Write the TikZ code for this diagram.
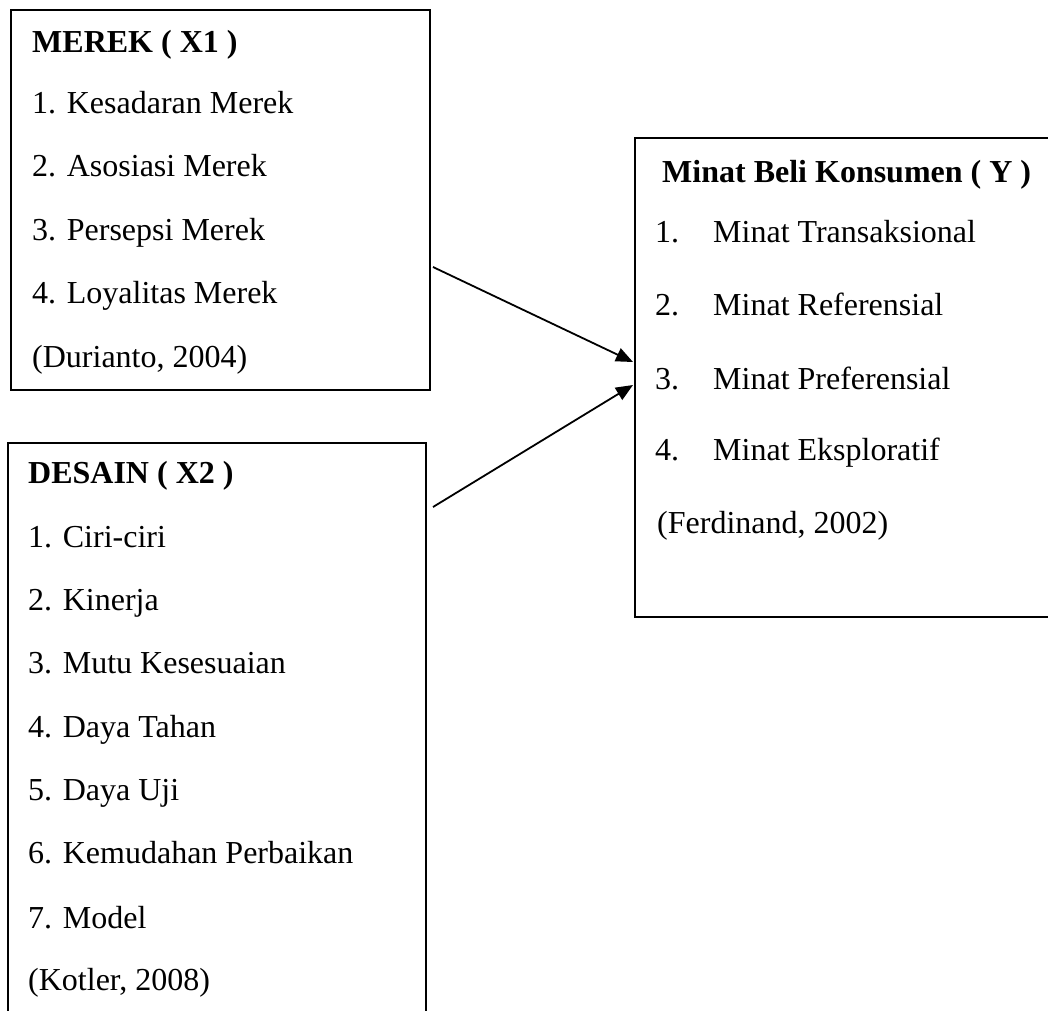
\documentclass[tikz,border=0pt]{standalone}
\usepackage{fontspec}
\setmainfont{Liberation Serif}
\usetikzlibrary{arrows.meta}
\begin{document}
\begin{tikzpicture}[x=1pt,y=-1pt,
  box/.style={draw,line width=1.6pt,inner sep=0pt,outer sep=0pt},
  txt/.style={anchor=base west,inner sep=0pt,font=\fontsize{32}{38}\selectfont},
  ttl/.style={anchor=base west,inner sep=0pt,font=\fontsize{32}{38}\selectfont\bfseries},
  conn/.style={line width=1.8pt,-{Triangle[length=17pt,width=14pt]}}]
\useasboundingbox (0,0) rectangle (1048,1010);
\clip (0,0) rectangle (1048,1010);
% boxes
\node[box,minimum width=419pt,minimum height=380pt] (merek) at (220.5,200) {};
\node[box,minimum width=418pt,minimum height=600pt] (desain) at (217,743) {};
\node[box,minimum width=440pt,minimum height=479pt] (minat) at (855,377.5) {};
% box 1 text
\node[ttl] (m0) at (32,52) {MEREK ( X1 )};
\node[txt] (m1) at (32,113) {1. Kesadaran Merek};
\node[txt] (m2) at (32,176) {2. Asosiasi Merek};
\node[txt] (m3) at (32,240) {3. Persepsi Merek};
\node[txt] (m4) at (32,303) {4. Loyalitas Merek};
\node[txt] (m5) at (32,367) {(Durianto, 2004)};
% box 2 text
\node[ttl] (d0) at (28,483) {DESAIN ( X2 )};
\node[txt] (d1) at (28,547) {1. Ciri-ciri};
\node[txt] (d2) at (28,610) {2. Kinerja};
\node[txt] (d3) at (28,673) {3. Mutu Kesesuaian};
\node[txt] (d4) at (28,737) {4. Daya Tahan};
\node[txt] (d5) at (28,800) {5. Daya Uji};
\node[txt] (d6) at (28,863) {6. Kemudahan Perbaikan};
\node[txt] (d7) at (28,928) {7. Model};
\node[txt] (d8) at (28,990) {(Kotler, 2008)};
% box 3 text
\node[ttl] (y0) at (662,182) {Minat Beli Konsumen ( Y )};
\node[txt] (y1n) at (655,242) {1.};
\node[txt] (y1) at (713,242) {Minat Transaksional};
\node[txt] (y2n) at (655,315) {2.};
\node[txt] (y2) at (713,315) {Minat Referensial};
\node[txt] (y3n) at (655,389) {3.};
\node[txt] (y3) at (713,389) {Minat Preferensial};
\node[txt] (y4n) at (655,460) {4.};
\node[txt] (y4) at (713,460) {Minat Eksploratif};
\node[txt] (y5) at (657,533) {(Ferdinand, 2002)};
% connectors
\coordinate (a1s) at (433,267);
\coordinate (a1e) at (633,362);
\coordinate (a2s) at (433,507);
\coordinate (a2e) at (633,385);
\draw[conn] (a1s) -- (a1e);
\draw[conn] (a2s) -- (a2e);
\end{tikzpicture}
\end{document}
